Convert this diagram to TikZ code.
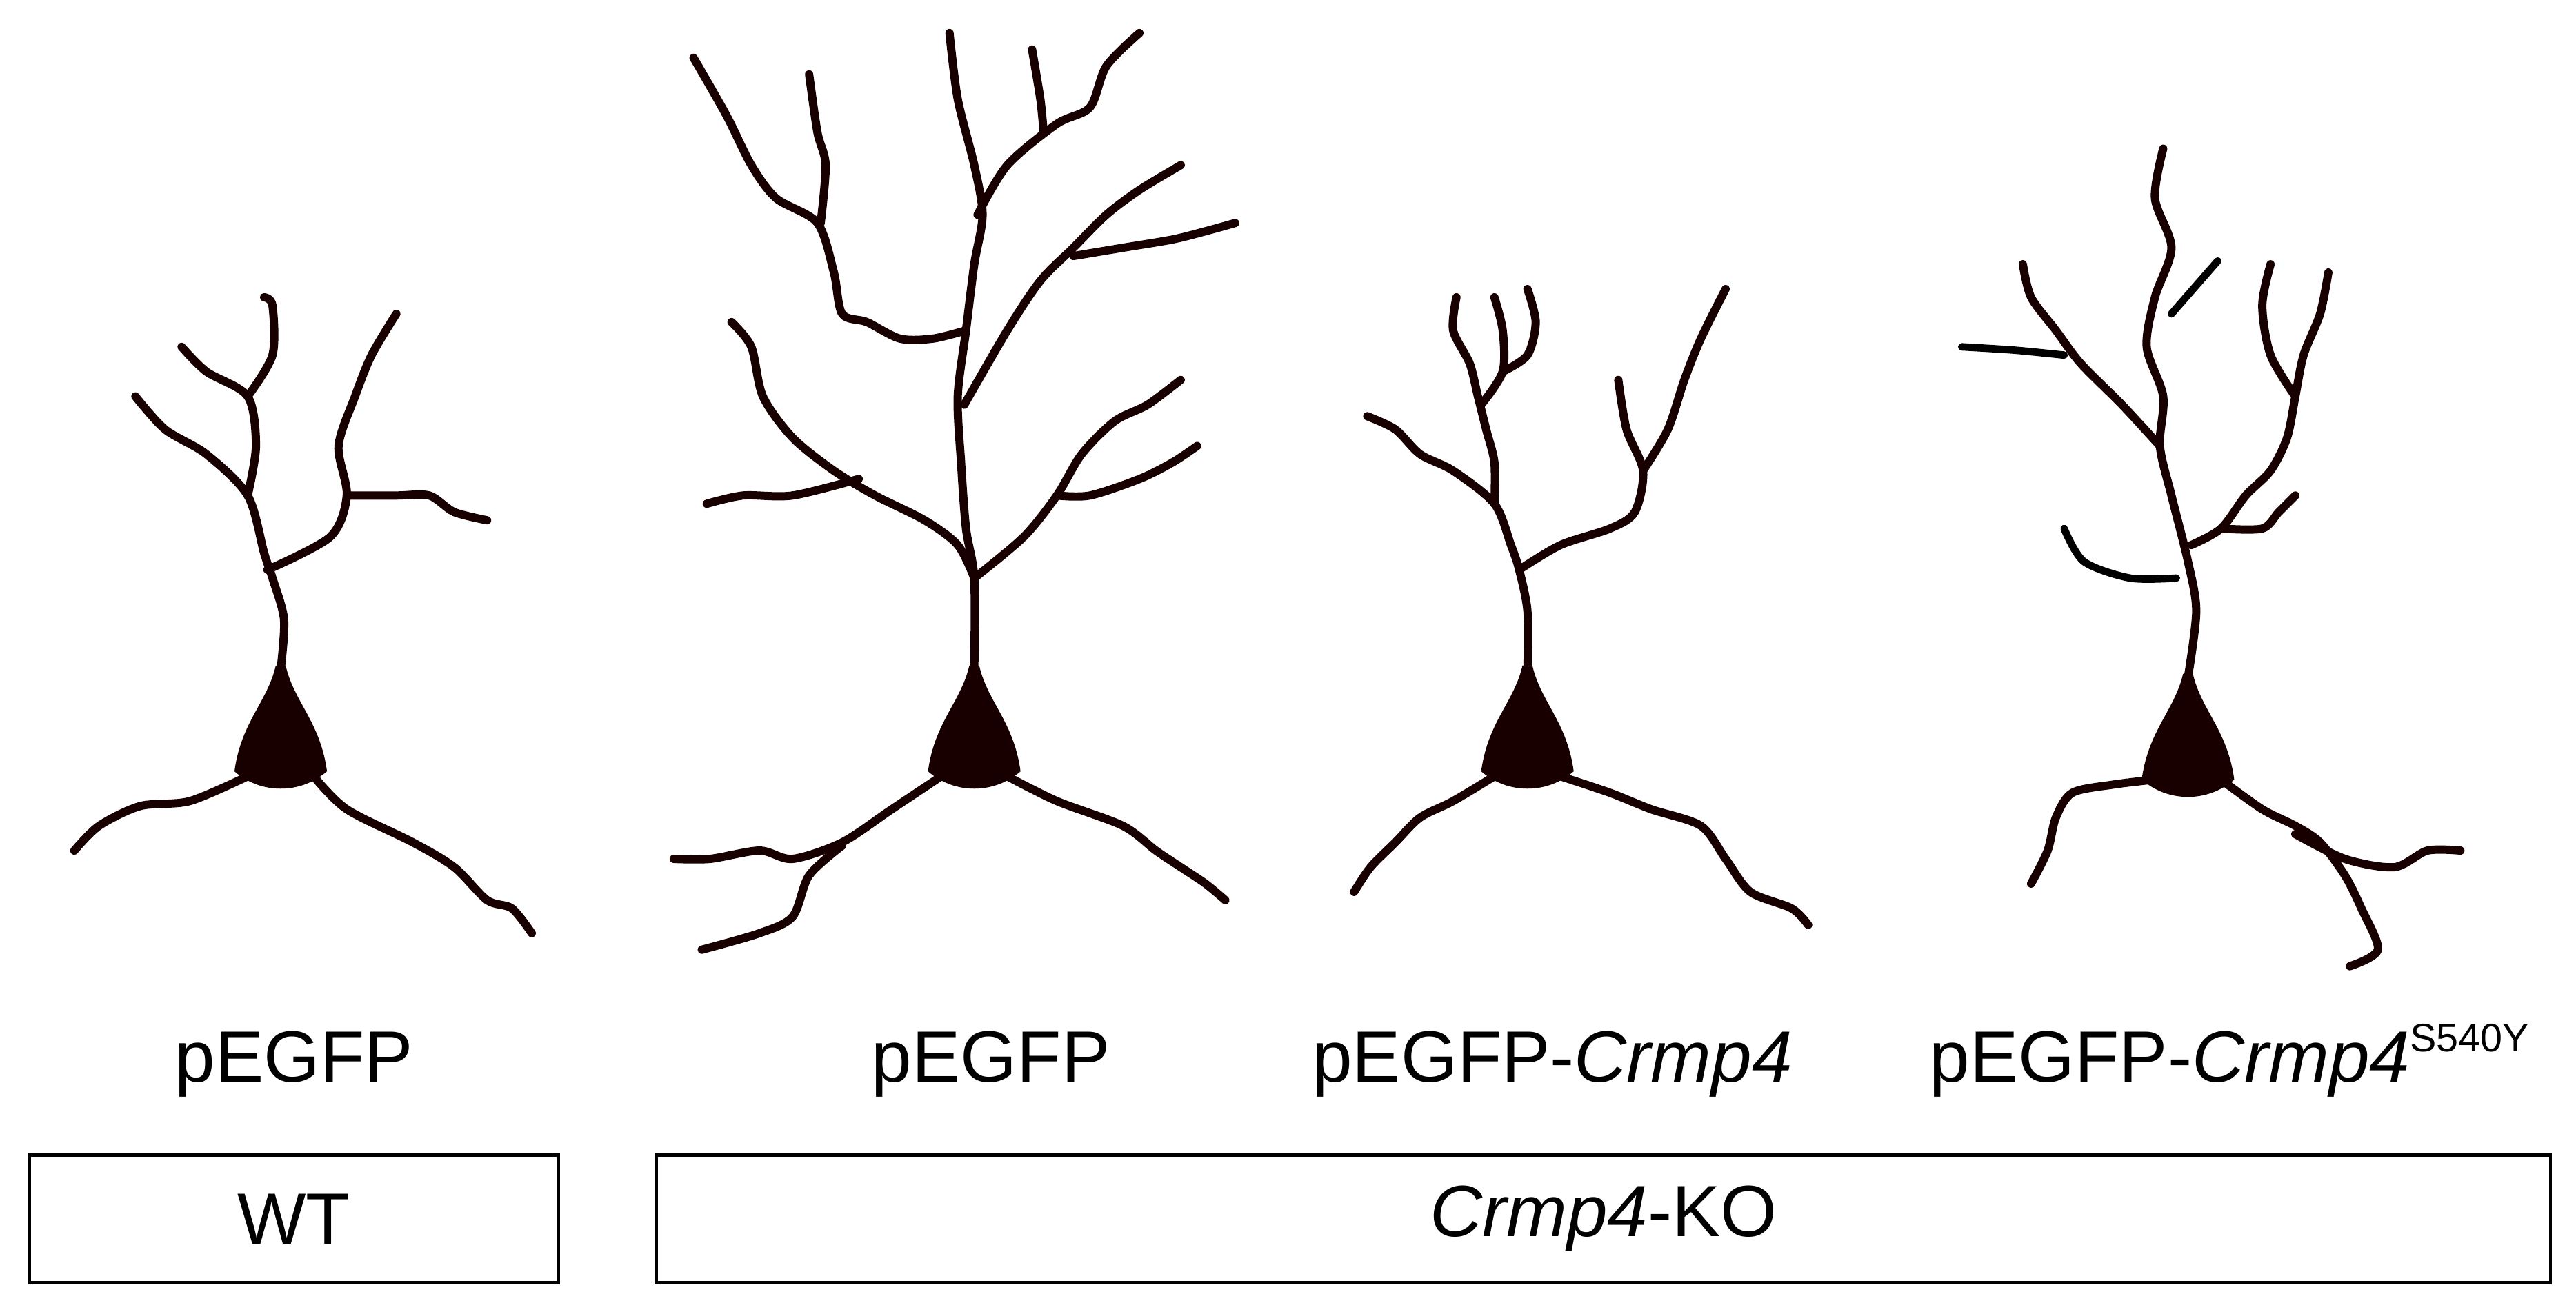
\documentclass[tikz,border=0pt]{standalone}
\usepackage{fontspec}
\setmainfont{Liberation Sans}
\begin{document}
\begin{tikzpicture}[x=1pt,y=-1pt,
  den/.style={line width=5pt,draw=black!90!red,line cap=round,line join=round},
  cut/.style={line width=4.5pt,draw=black,line cap=round},
  box/.style={draw,line width=2pt},
  lab/.style={font=\fontsize{44}{50}\selectfont},
  blab/.style={lab,anchor=base}]
\useasboundingbox (0,0) rectangle (1560,793);
\newcommand{\soma}[2]{\fill[black!90!red] (#1-3,#2-42) -- (#1+3,#2-42) .. controls (#1+8,#2-20) and (#1+24,#2-8) .. (#1+28,#2+22) .. controls (#1+12,#2+36) and (#1-12,#2+36) .. (#1-28,#2+22) .. controls (#1-24,#2-8) and (#1-8,#2-20) .. (#1-3,#2-42) -- cycle;}
% Neuron 1
\soma{170}{445}
\draw[den] plot[smooth] coordinates {(170,405)(172,375)(165,350)(160,335)(150,300)(125,275)(100,260)(82,240)};
\draw[den] plot[smooth] coordinates {(150,300)(155,270)(150,240)(125,225)(110,210)};
\draw[den] plot[smooth] coordinates {(150,240)(165,215)(165,185)(160,180)};
\draw[den] plot[smooth] coordinates {(162,345)(200,325)(210,300)(205,270)(215,240)(225,215)(240,190)};
\draw[den] plot[smooth] coordinates {(210,300)(240,300)(260,300)(275,310)(295,315)};
\draw[den] plot[smooth] coordinates {(150,470)(115,485)(85,488)(60,500)(45,515)};
\draw[den] plot[smooth] coordinates {(190,470)(210,490)(250,510)(275,525)(295,545)(310,550)(322,565)};
% Neuron 2
\soma{590}{445}
\draw[den] plot[smooth] coordinates {(590,405)(590,350)(585,320)(582,280)(580,240)(585,200)(590,160)(595,130)(590,100)(580,60)(575,20)};
\draw[den] plot[smooth] coordinates {(590,350)(580,330)(560,315)(530,300)(505,285)(480,265)(462,240)(455,210)(443,195)};
\draw[den] plot[smooth] coordinates {(520,290)(480,300)(450,300)(428,305)};
\draw[den] plot[smooth] coordinates {(585,200)(565,205)(545,205)(525,195)(510,190)(505,165)(495,135)(470,120)(455,100)(440,70)(420,35)};
\draw[den] plot[smooth] coordinates {(497,135)(500,100)(495,80)(490,45)};
\draw[den] plot[smooth] coordinates {(592,130)(610,100)(640,75)(660,65)(670,40)(690,20)};
\draw[den] plot[smooth] coordinates {(632,80)(630,60)(625,30)};
\draw[den] plot[smooth] coordinates {(590,350)(620,325)(640,300)(655,275)(675,255)(695,245)(715,230)};
\draw[den] plot[smooth] coordinates {(640,300)(660,300)(690,290)(710,280)(725,270)};
\draw[den] plot[smooth] coordinates {(584,245)(610,200)(630,170)(650,150)(670,130)(690,115)(715,100)};
\draw[den] plot[smooth] coordinates {(650,155)(680,150)(710,145)(730,140)(748,135)};
\draw[den] plot[smooth] coordinates {(570,470)(540,490)(510,510)(480,520)(460,515)(430,520)(408,520)};
\draw[den] plot[smooth] coordinates {(510,512)(490,530)(480,555)(460,565)(425,575)};
\draw[den] plot[smooth] coordinates {(610,470)(640,485)(680,500)(700,515)(715,525)(730,535)(742,545)};
% Neuron 3
\soma{925}{445}
\draw[den] plot[smooth] coordinates {(925,405)(925,370)(920,345)(915,330)(905,305)(880,285)(860,275)(845,260)(828,252)};
\draw[den] plot[smooth] coordinates {(905,305)(905,280)(900,260)(895,240)(890,220)(880,200)(882,180)};
\draw[den] plot[smooth] coordinates {(897,245)(910,225)(910,200)(905,180)};
\draw[den] plot[smooth] coordinates {(910,225)(925,215)(930,195)(925,175)};
\draw[den] plot[smooth] coordinates {(920,345)(945,330)(975,320)(990,310)(995,285)(985,260)(980,230)};
\draw[den] plot[smooth] coordinates {(995,285)(1010,260)(1020,230)(1030,205)(1045,175)};
\draw[den] plot[smooth] coordinates {(905,470)(880,485)(860,495)(845,510)(830,525)(820,540)};
\draw[den] plot[smooth] coordinates {(945,470)(975,480)(1000,490)(1030,500)(1045,520)(1060,540)(1085,550)(1095,560)};
% Neuron 4
\soma{1325}{450}
\draw[den] plot[smooth] coordinates {(1325,410)(1330,370)(1325,340)(1315,300)(1308,270)(1310,240)(1300,210)(1305,180)(1315,150)(1305,120)(1310,90)};
\draw[den] plot[smooth] coordinates {(1308,270)(1285,245)(1260,220)(1245,200)(1230,180)(1225,160)};
\draw[den] plot[smooth] coordinates {(1327,330)(1345,320)(1360,300)(1375,285)(1385,265)(1390,240)(1395,215)(1405,190)(1410,165)};
\draw[den] plot[smooth] coordinates {(1390,240)(1375,215)(1370,185)(1375,160)};
\draw[den] plot[smooth] coordinates {(1345,320)(1370,320)(1380,310)(1390,300)};
\draw[den] plot[smooth] coordinates {(1305,472)(1280,475)(1255,480)(1245,495)(1240,515)(1230,535)};
\draw[den] plot[smooth] coordinates {(1345,472)(1370,490)(1390,500)(1405,510)(1420,530)(1430,550)(1440,575)(1423,585)};
\draw[den] plot[smooth] coordinates {(1390,505)(1420,520)(1450,525)(1470,515)(1490,515)};
\draw[cut] (1315,190) -- (1343,158);
\draw[cut] plot[smooth] coordinates {(1188,210)(1220,212)(1250,215)};
\draw[cut] plot[smooth] coordinates {(1250,320)(1262,340)(1290,350)(1318,350)};
% labels
\node[blab] (l1) at (178,655) {pEGFP};
\node[blab] (l2) at (600,655) {pEGFP};
\node[blab] (l3) at (940,655) {pEGFP-\textit{Crmp4}};
\node[blab] (l4) at (1350,655) {pEGFP-\textit{Crmp4}\raisebox{0.42em}{\fontsize{24}{26}\selectfont S540Y}};
\node[box,minimum width=320pt,minimum height=77pt,lab] (wt) at (178,738) {WT};
\node[box,minimum width=1147pt,minimum height=77pt,lab] (ko) at (971,738) {\textit{Crmp4}-KO};
\end{tikzpicture}
\end{document}
